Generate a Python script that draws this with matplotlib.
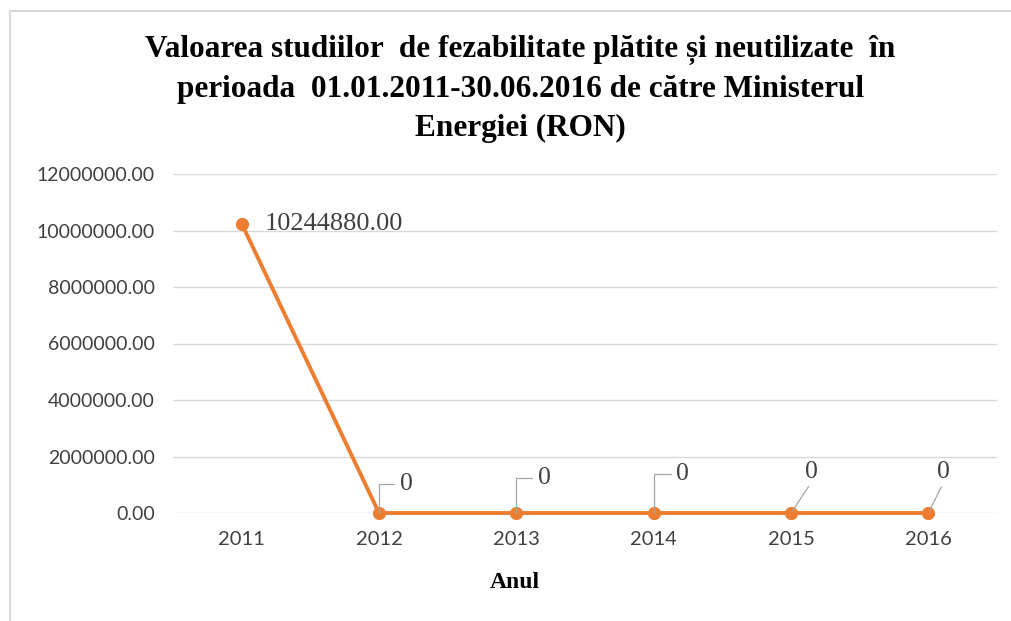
import numpy as np
import matplotlib.pyplot as plt
from matplotlib.lines import Line2D

# Chart data
years = ['2011', '2012', '2013', '2014', '2015', '2016']
values = [10244880.00, 0, 0, 0, 0, 0]
value_labels = ['10244880.00', '0', '0', '0', '0', '0']
y_ticks = [0, 2000000, 4000000, 6000000, 8000000, 10000000, 12000000]

title = ('Valoarea studiilor  de fezabilitate plătite și neutilizate  în\n'
         'perioada  01.01.2011-30.06.2016 de către Ministerul\n'
         'Energiei (RON)')

orange = '#ED7D31'
grid_col = '#D9D9D9'
text_col = '#404040'

fig = plt.figure(figsize=(10.11, 6.21), dpi=100)
ax = fig.add_axes([173 / 1011, 1 - 513 / 621, 824 / 1011, 339 / 621])

x = np.arange(len(years))
ax.plot(x, values, color=orange, linewidth=2.8, marker='o', markersize=8.5,
        zorder=3, clip_on=False)

ax.set_xlim(-0.5, len(years) - 0.5)
ax.set_ylim(0, 12000000)
ax.set_yticks(y_ticks)
ax.set_yticklabels([f'{v:.2f}' for v in y_ticks], fontfamily='Lato', fontsize=14, color=text_col)
ax.set_xticks(x)
ax.set_xticklabels(years, fontfamily='Lato', fontsize=14.5, color=text_col)
ax.tick_params(length=0)
ax.tick_params(axis='x', pad=13)
ax.tick_params(axis='y', pad=13)
ax.grid(axis='y', color=grid_col, linewidth=1)
ax.set_axisbelow(True)
for s in ax.spines.values():
    s.set_visible(False)

# data labels
ax.annotate(value_labels[0], (x[0], values[0]), xytext=(23, 0), textcoords='offset pixels',
            ha='left', va='center', fontfamily='Liberation Serif', fontsize=19, color=text_col)

offsets = [(27, 29), (28, 35), (29, 39), (20, 41), (15, 41)]
for i, (dx, dy) in zip(range(1, 6), offsets):
    if i <= 3:
        arrow = dict(arrowstyle='-', color='#A6A6A6', lw=0.9, patchA=None, shrinkA=4, shrinkB=0,
                     relpos=(0, 0.5), connectionstyle='angle,angleA=0,angleB=90,rad=0')
    else:
        arrow = dict(arrowstyle='-', color='#A6A6A6', lw=0.9, patchA=None, shrinkA=3, shrinkB=2,
                     relpos=(0.5, 0))
    ax.annotate(value_labels[i], (x[i], values[i]), xytext=(dx, dy), textcoords='offset pixels',
                ha='center', va='center', fontfamily='Liberation Serif', fontsize=18.5,
                color=text_col, arrowprops=arrow)

ax.set_xlabel('Anul', fontfamily='Liberation Serif', fontsize=17, fontweight='bold')
ax.xaxis.set_label_coords((515 - 173) / 824, -(583 - 513) / 339)
ax.xaxis.label.set_va('center')

fig.text(0.515, 1 - 89 / 621, title, ha='center', va='center', fontfamily='Liberation Serif',
         fontsize=22.5, fontweight='bold', linespacing=1.45)

# chart border
fig.add_artist(Line2D([10 / 1011, 10 / 1011], [0, 1 - 11 / 621], transform=fig.transFigure,
                      color=grid_col, lw=1.5))
fig.add_artist(Line2D([10 / 1011, 1], [1 - 11 / 621, 1 - 11 / 621], transform=fig.transFigure,
                      color=grid_col, lw=1.5))

fig.savefig('out.png', dpi=100)
